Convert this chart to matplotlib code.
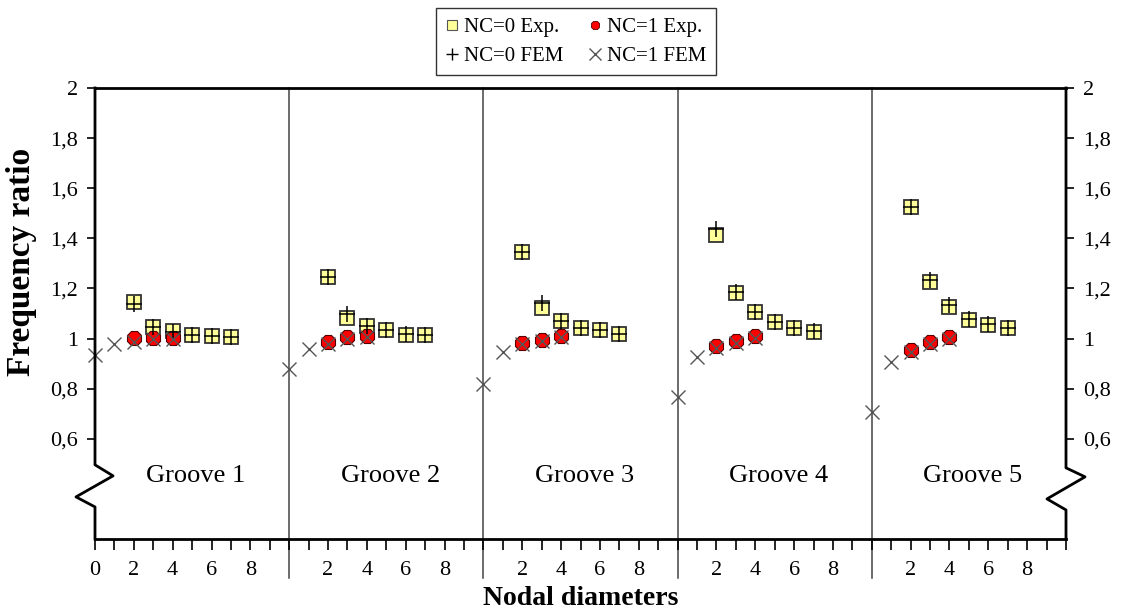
import matplotlib
matplotlib.use("Agg")
import matplotlib.pyplot as plt
from matplotlib.lines import Line2D
from matplotlib.ticker import FixedLocator, FuncFormatter

plt.rcParams["font.family"] = ["Liberation Serif", "DejaVu Serif"]

groups = ["Groove 1", "Groove 2", "Groove 3", "Groove 4", "Groove 5"]
group_width = 10

# NC=0, experiment and FEM (nodal diameters 2..7)
nc0_nd = [2, 3, 4, 5, 6, 7]
nc0_exp = [
    [1.145, 1.045, 1.030, 1.013, 1.012, 1.007],
    [1.247, 1.083, 1.049, 1.033, 1.016, 1.015],
    [1.345, 1.123, 1.072, 1.043, 1.033, 1.020],
    [1.413, 1.180, 1.105, 1.065, 1.043, 1.025],
    [1.525, 1.225, 1.124, 1.076, 1.053, 1.041],
]
nc0_fem = [
    [1.136, 1.045, 1.028, 1.013, 1.012, 1.007],
    [1.247, 1.099, 1.049, 1.033, 1.020, 1.015],
    [1.345, 1.143, 1.072, 1.043, 1.033, 1.020],
    [1.436, 1.185, 1.105, 1.065, 1.043, 1.030],
    [1.525, 1.235, 1.132, 1.080, 1.060, 1.041],
]

# NC=1, experiment (ND 2..4) and FEM (ND 0..4)
nc1_exp_nd = [2, 3, 4]
nc1_exp = [
    [1.003, 1.002, 1.002],
    [0.985, 1.005, 1.009],
    [0.983, 0.996, 1.012],
    [0.969, 0.989, 1.009],
    [0.953, 0.987, 1.005],
]
nc1_fem_nd = [0, 1, 2, 3, 4]
nc1_fem = [
    [0.936, 0.979, 0.988, 0.998, 1.000],
    [0.880, 0.960, 0.980, 0.998, 1.005],
    [0.819, 0.945, 0.978, 0.992, 1.008],
    [0.768, 0.927, 0.962, 0.984, 1.004],
    [0.705, 0.907, 0.948, 0.980, 1.000],
]

y_ticks = [0.6, 0.8, 1.0, 1.2, 1.4, 1.6, 1.8, 2.0]

fig = plt.figure(figsize=(11.21, 6.15), dpi=100)
ax = fig.add_axes([95 / 1121, 76 / 615, 971 / 1121, 451 / 615])
ax.set_xlim(0, 50)
ax.set_ylim(0.2, 2.0)

sq_kw = dict(ls="none", marker="s", ms=10, mfc="#ffff99", mec="#333333", mew=1.3)
ci_kw = dict(ls="none", marker="8", ms=11, mfc="#ff0000", mec="#550000", mew=0.8)
pl_kw = dict(ls="none", marker="+", ms=11, mec="black", mew=1.1)
x_kw = dict(ls="none", marker="x", ms=10, mec="#555555", mew=1.0)

for i, name in enumerate(groups):
    off = i * group_width
    ax.plot([off + n for n in nc0_nd], nc0_exp[i], zorder=3, **sq_kw)
    ax.plot([off + n for n in nc0_nd], nc0_fem[i], zorder=4, **pl_kw)
    ax.plot([off + n for n in nc1_exp_nd], nc1_exp[i], zorder=3, **ci_kw)
    ax.plot([off + n for n in nc1_fem_nd], nc1_fem[i], zorder=4, clip_on=False, **x_kw)
    ax.text(off + 5.2, 0.452, name, ha="center", va="center", fontsize=19)
    if i > 0:
        ax.plot([off, off], [0.044, 2.0], color="#444444", lw=1.1, clip_on=False, zorder=1)

# left / right axis lines with break marks
for s in ["left", "right"]:
    ax.spines[s].set_visible(False)
ax.spines["top"].set_linewidth(2)
ax.spines["bottom"].set_linewidth(2)
ax.plot([0, 0, 0.93, -0.98, 0, 0], [2.0, 0.496, 0.452, 0.368, 0.328, 0.2],
        color="black", lw=2, clip_on=False, zorder=5)
ax.plot([50, 50, 50.98, 49.02, 50, 50], [2.0, 0.484, 0.448, 0.36, 0.316, 0.2],
        color="black", lw=2, clip_on=False, zorder=5)

ax.yaxis.set_major_locator(FixedLocator(y_ticks))
ax.yaxis.set_major_formatter(FuncFormatter(lambda v, p: f"{v:g}".replace(".", ",")))
ax.tick_params(axis="y", which="major", direction="out", length=6, width=1.2,
               left=True, right=True, labelleft=True, labelright=True, labelsize=16, pad=6)

ax.xaxis.set_major_locator(FixedLocator([g * 10 + d for g in range(5) for d in (0, 2, 4, 6, 8)]))
ax.xaxis.set_minor_locator(FixedLocator(range(0, 51)))
ax.xaxis.set_major_formatter(FuncFormatter(lambda v, p: "" if (v % 10 == 0 and v > 0) else f"{int(v % 10)}"))
ax.tick_params(axis="x", which="both", direction="out", length=8, width=1.2, labelsize=16, pad=8)

ax.set_ylabel("Frequency ratio", fontsize=24, fontweight="bold")
ax.yaxis.set_label_coords(-0.06, 0.614)
ax.set_xlabel("Nodal diameters", fontsize=20, fontweight="bold", labelpad=4)

handles = [
    Line2D([], [], ls="none", marker="s", ms=7, mfc="#ffff99", mec="#555555", mew=0.8),
    Line2D([], [], ls="none", marker="+", ms=9, mec="black", mew=1.0),
    Line2D([], [], ls="none", marker="8", ms=7, mfc="#ff0000", mec="#550000", mew=0.6),
    Line2D([], [], ls="none", marker="x", ms=8, mec="#555555", mew=1.0),
]
labels = ["NC=0 Exp.", "NC=0 FEM", "NC=1 Exp.", "NC=1 FEM"]
leg = fig.legend(handles, labels, ncol=2, loc="center", bbox_to_anchor=(0.514, 0.932),
                 fontsize=15, frameon=True, fancybox=False, edgecolor="black",
                 handlelength=0.6, handletextpad=0.3, columnspacing=1.2, borderpad=0.45,
                 labelspacing=0.45)
leg.get_frame().set_linewidth(1.0)

fig.savefig("out.png", dpi=100)
